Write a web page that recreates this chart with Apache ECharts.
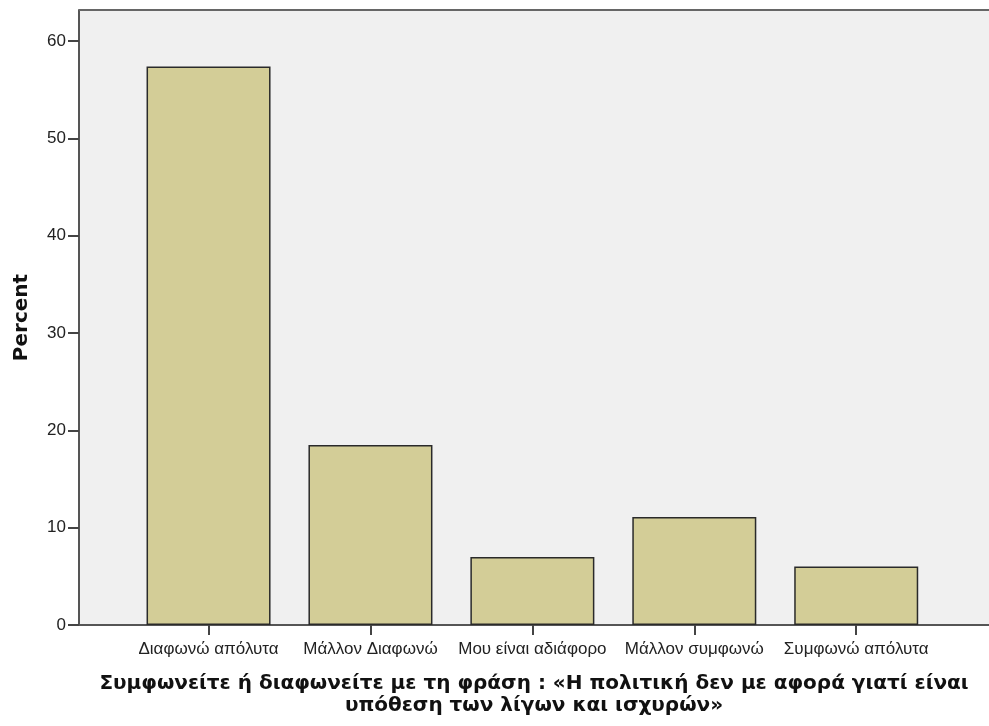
<!DOCTYPE html>
<html>
<head>
<meta charset="utf-8">
<script src="https://cdn.jsdelivr.net/npm/echarts@6/dist/echarts.min.js"></script>
<style>html,body{margin:0;padding:0;background:#fff}#c{width:989px;height:726px}</style>
</head>
<body>
<div id="c"></div>
<script>
const categories = ['Διαφωνώ απόλυτα', 'Μάλλον Διαφωνώ', 'Μου είναι αδιάφορο', 'Μάλλον συμφωνώ', 'Συμφωνώ απόλυτα'];
const percents = [57.4, 18.5, 7.0, 11.1, 6.0];
const yTicks = [0, 10, 20, 30, 40, 50, 60];
const xTitle = 'Συμφωνείτε ή διαφωνείτε με τη φράση : «Η πολιτική δεν με αφορά γιατί είναι\nυπόθεση των λίγων και ισχυρών»';
const yTitle = 'Percent';

const catIdx = categories.map((_, i) => i);
const chart = echarts.init(document.getElementById('c'), null, {renderer: 'canvas'});
chart.setOption({
  animation: false,
  backgroundColor: '#ffffff',
  grid: {left: 79, right: 0, top: 10, bottom: 101, show: true, backgroundColor: '#f0f0f0', borderWidth: 0},
  xAxis: {
    type: 'value', min: -0.8, max: 4.82,
    splitLine: {show: false},
    axisLine: {show: true, onZero: false, lineStyle: {color: '#555', width: 2}},
    axisTick: {show: true, customValues: catIdx, length: 10, lineStyle: {color: '#444', width: 2}},
    axisLabel: {customValues: catIdx, formatter: v => categories[Math.round(v)] || '', color: '#222', fontFamily: 'Liberation Sans, Arial, sans-serif', fontSize: 17, margin: 16},
    name: xTitle, nameLocation: 'middle', nameGap: 48,
    nameTextStyle: {fontFamily: 'DejaVu Sans', fontWeight: 'bold', fontSize: 20, color: '#111', lineHeight: 22, align: 'center', verticalAlign: 'top'}
  },
  yAxis: {
    type: 'value', min: 0, max: 63.2,
    splitLine: {show: false},
    axisLine: {show: true, onZero: false, lineStyle: {color: '#555', width: 2}},
    axisTick: {show: true, customValues: yTicks, length: 11, lineStyle: {color: '#444', width: 2}},
    axisLabel: {customValues: yTicks, color: '#222', fontFamily: 'Liberation Sans, Arial, sans-serif', fontSize: 17, margin: 13},
    name: yTitle, nameLocation: 'middle', nameGap: 47, nameRotate: 90,
    nameTextStyle: {fontFamily: 'DejaVu Sans', fontWeight: 'bold', fontSize: 20, color: '#111'}
  },
  series: [
    {
      type: 'bar',
      data: percents.map((v, i) => [catIdx[i], v]),
      barWidth: 124,
      itemStyle: {color: '#d3cd97', borderColor: '#2a2a2a', borderWidth: 1.5},
      silent: true
    },
    {
      type: 'line',
      data: [[-0.8, 63.2], [4.82, 63.2]],
      symbol: 'none',
      lineStyle: {color: '#666', width: 2},
      silent: true
    }
  ]
});
</script>
</body>
</html>
